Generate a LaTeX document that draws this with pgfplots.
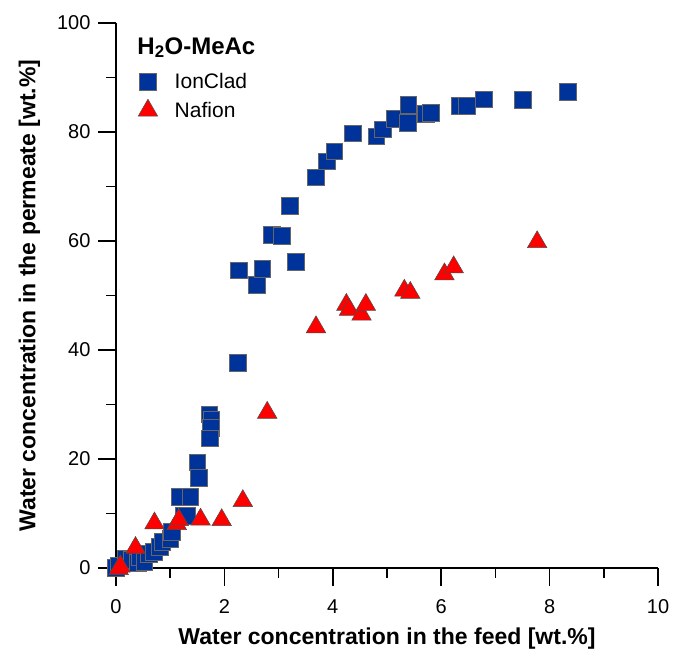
\documentclass[border=0pt]{standalone}
\usepackage{pgfplots}
\pgfplotsset{compat=1.18}
\usepackage{fontspec}
\setmainfont{Liberation Sans}
\definecolor{ionblue}{RGB}{0,51,153}
\definecolor{nafred}{RGB}{255,0,0}

\begin{document}
\begin{tikzpicture}
\begin{axis}[
  width=542pt, height=545pt, scale only axis,
  xmin=0, xmax=10, ymin=0, ymax=100,
  axis line style={draw=none},
  tick pos=left,
  xtick={0,2,...,10}, ytick={0,20,...,100},
  tick align=outside,
  major tick length=18pt,
  tick style={draw=none},
  ticklabel style={font=\fontsize{20}{24}\selectfont},
  xticklabel style={yshift=-10pt},
  yticklabel style={xshift=-4pt},
  /pgf/number format/assume math mode=true,
  xlabel={Water concentration in the feed [wt.\%]},
  ylabel={Water concentration in the permeate [wt.\%]},
  label style={font=\fontsize{23}{27}\selectfont\bfseries},
  xlabel style={yshift=-7pt},
  ylabel style={yshift=10pt},
  legend style={draw=none, fill=none, at={(rel axis cs:0.035,0.915)}, anchor=north west,
    font=\fontsize{21}{25}\selectfont, row sep=7pt,
    /tikz/every odd column/.append style={column sep=15pt}},
  legend cell align=left,
  clip=false,
]
% axis lines and ticks (left and bottom only)
\draw[line width=1.5pt] (rel axis cs:0,1) -- (rel axis cs:0,0) -- (rel axis cs:1,0);
\pgfplotsinvokeforeach{0,2,4,6,8,10}{
  \draw[line width=1.5pt] (axis cs:#1,0) -- ++(0pt,-18pt);}
\pgfplotsinvokeforeach{1,3,5,7,9}{
  \draw[line width=1.5pt] (axis cs:#1,0) -- ++(0pt,-10pt);}
\pgfplotsinvokeforeach{0,20,40,60,80,100}{
  \draw[line width=1.5pt] (axis cs:0,#1) -- ++(-18pt,0pt);}
\pgfplotsinvokeforeach{10,30,50,70,90}{
  \draw[line width=1.5pt] (axis cs:0,#1) -- ++(-10pt,0pt);}

\addplot[only marks, mark=square*, mark size=8.3pt,
  mark options={fill=ionblue, draw=black!60, line width=0.5pt}] coordinates {
  (0.00,0.0) (0.05,0.5) (0.17,1.8) (0.29,1.5) (0.40,1.0) (0.44,2.0)
  (0.52,1.2) (0.60,2.6) (0.70,3.0) (0.81,3.9) (0.85,4.8) (1.00,5.4)
  (1.03,6.7) (1.24,9.7) (1.31,9.6) (1.18,13.1) (1.37,13.1) (1.50,19.4)
  (1.53,16.6) (1.72,28.2) (1.76,27.2) (1.75,25.7) (1.73,23.8) (2.25,37.7)
  (2.26,54.6) (2.60,52.0) (2.70,54.9) (2.87,61.1) (3.06,61.0) (3.21,66.5)
  (3.32,56.2) (3.69,71.7) (3.89,74.6) (4.03,76.5) (4.37,79.8) (4.80,79.2)
  (4.92,80.5) (5.14,82.4) (5.38,81.7) (5.39,85.0) (5.72,83.4) (5.81,83.5)
  (6.33,84.8) (6.47,84.8) (6.79,86.0) (7.51,85.9) (8.34,87.4)
};
\addlegendentry{IonClad}
\addplot[only marks, mark=triangle*, mark size=11.3pt,
  mark options={fill=nafred, draw=black!70, line width=0.5pt}] coordinates {
  (0.05,-0.2) (0.08,0.3) (0.36,3.7) (0.71,8.2) (1.12,8.1) (1.16,8.8)
  (1.56,8.9) (1.95,8.8) (2.34,12.3) (2.79,28.5) (3.69,44.2) (4.25,48.3)
  (4.30,47.4) (4.53,46.5) (4.61,48.3) (5.32,50.9) (5.43,50.5) (6.06,53.9)
  (6.23,55.2) (7.77,59.8)
};
\addlegendentry{Nafion}
\node[anchor=west, font=\fontsize{24}{28}\selectfont\bfseries]
  at (rel axis cs:0.033,0.955) {H\textsubscript{2}O-MeAc};
\end{axis}
\pgfresetboundingbox
\path[use as bounding box] (-116pt,-84pt) rectangle (561pt,568pt);
\end{tikzpicture}
\end{document}
